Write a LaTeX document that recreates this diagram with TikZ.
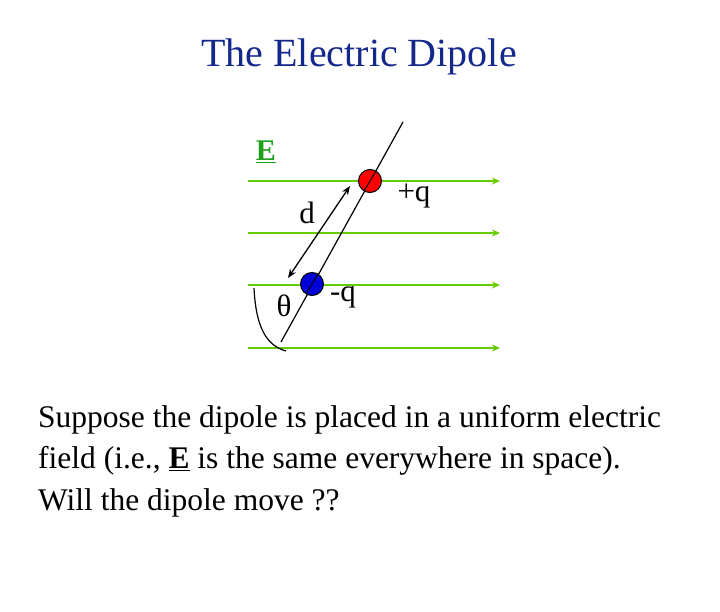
\documentclass[tikz,border=0pt]{standalone}
\usepackage{fontspec}
\setmainfont{Liberation Serif}
\usetikzlibrary{arrows.meta,calc}
\definecolor{fgreen}{RGB}{102,204,0}
\definecolor{tblue}{RGB}{20,40,140}
\definecolor{egreen}{RGB}{30,160,30}
\begin{document}
\begin{tikzpicture}[x=1pt,y=-1pt,
  field/.style={fgreen,line width=2pt,-{Stealth[length=8pt,width=7pt]}},
  charge/.style={circle,draw=black,line width=1pt,minimum size=23pt,inner sep=0pt},
  lbl/.style={font=\fontsize{31}{36}\selectfont},
  body/.style={font=\fontsize{31.5}{36}\selectfont,anchor=west,inner sep=0pt}]
\useasboundingbox (0,0) rectangle (720,612);
\node[font=\fontsize{40}{46}\selectfont,text=tblue] (title) at (359,57) {The Electric Dipole};
\node[font=\fontsize{30}{34}\selectfont\bfseries,text=egreen] (E) at (266,152) {\underline{E}};
\foreach \y/\n in {181/a,233/b,285/c,348/d}{
  \coordinate (l\n) at (248,\y); \coordinate (r\n) at (500,\y);
  \draw[field] (l\n) -- (r\n);}
\coordinate (top) at (403,122); \coordinate (bot) at (281,342);
\draw[line width=1.2pt] (top) -- (bot);
\node[charge,fill=red] (pq) at (370,181) {};
\node[charge,fill=blue!85!black] (nq) at (312,284) {};
\draw[line width=1pt] ($(pq)+(6,-10)$) -- ($(pq)+(-6,10)$);
\draw[line width=1pt] ($(nq)+(6,-10)$) -- ($(nq)+(-6,10)$);
\coordinate (da) at (350,186); \coordinate (db) at (288,278);
\draw[line width=1.3pt,{Stealth[length=9pt,width=7pt]}-{Stealth[length=9pt,width=7pt]}] (db) -- (da);
\coordinate (arcA) at (254,288); \coordinate (arcB) at (286,351);
\draw[line width=1.2pt] (arcA) .. controls (256,330) and (268,346) .. (arcB);
\node[lbl] (d) at (307,213) {d};
\node[lbl] (p) at (414,196) {+q};
\node[lbl] (n) at (343,297) {-q};
\node[lbl] (th) at (284,306) {θ};
\node[body] (t1) at (38,420) {Suppose the dipole is placed in a uniform electric};
\node[body] (t2) at (38,461) {field (i.e., \underline{\textbf{E}} is the same everywhere in space).};
\node[body] (t3) at (38,503) {Will the dipole move ??};
\end{tikzpicture}
\end{document}
